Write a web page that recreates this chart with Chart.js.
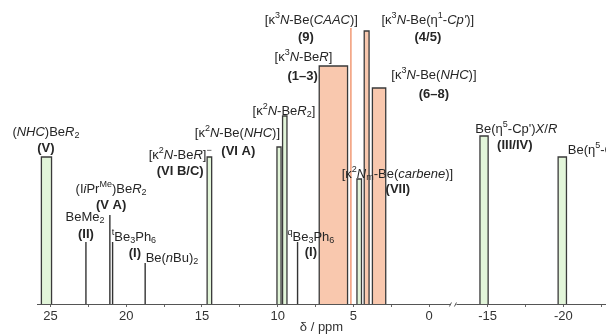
<!DOCTYPE html>
<html>
<head>
<meta charset="utf-8">
<script src="https://cdn.jsdelivr.net/npm/chart.js@4.4.1/dist/chart.umd.min.js"></script>
<style>
    html, body { margin: 0; padding: 0; background: #fff; }
    #wrap { width: 606px; height: 335px; }
</style>
</head>
<body>
<div id="wrap"><canvas id="shiftChart" width="606" height="335"></canvas></div>
<script>
// 9Be chemical shift ranges

// axis break: everything between BREAK_AT and BREAK_AT - BREAK_GAP is cut out
const BREAK_AT = -1.6;
const BREAK_GAP = 11.15;

// shaded ranges
const rangeNames  = ['V', 'VI B/C', 'VI A', 'k2N-BeR2', 'VII', 'III/IV', 'Cp2', '1-3', '4/5', '6-8'];
const rangeFrom   = [25.60, 14.66, 10.05, 9.68, 4.77, -14.50, -19.66, 7.26, 4.29, 3.75];
const rangeTo     = [24.93, 14.36,  9.78, 9.39, 4.47, -15.04, -20.21, 5.39, 3.97, 2.87];
const rangeHeight = [147, 147, 157, 188, 125, 168, 147, 238, 273, 216];
const rangeGroup  = ['green', 'green', 'green', 'green', 'green', 'green', 'green', 'orange', 'orange', 'orange'];

// single shifts (thin lines)
const lineNames  = ['BeMe2', 'IiPrMe', 'tBe3Ph6', 'Be(nBu)2', 'qBe3Ph6', 'CAAC'];
const lineShift  = [22.66, 21.08, 20.90, 18.75, 8.69, 5.17];
const lineHeight = [62, 89, 62, 41, 62, 276];
const lineGroup  = ['black', 'black', 'black', 'black', 'black', 'orange'];

// axis ticks
const tickValues = [25, 20, 15, 10, 5, 0, -15, -20];
const tickLabels = ['25', '20', '15', '10', '5', '0', '-15', '-20'];
const minorTicks = [22.5, 17.5, 12.5, 7.5, 2.5, -17.5, -22.5];

const FAMILY = '"Liberation Sans", Arial, sans-serif';
const TEXT = '#262626';
const COLORS = {
    green: '#e2f5d9',
    orange: '#f9c8ae',
    edge: '#3a3a3a',
    black: '#333333',
    orangeLine: '#f2a07e'
};

// δ -> axis value (squeeze out the break)
function toAxis(d) {
    return d < BREAK_AT ? d + BREAK_GAP : d;
}

function fromAxis(v) {
    return v < BREAK_AT ? v - BREAK_GAP : v;
}

// label placements: markup, δ, height, bold, align
// *...* italic, ^{..} superscript, _{..} subscript
const notes = [
    ['(*NHC*)Be*R*_{2}', 25.3, 172],
    ['(V)', 25.3, 156, true],
    ['[κ^{2}*N*-Be*R*]^{−}', 16.44, 149],
    ['(VI B/C)', 16.44, 133, true],
    ['[κ^{2}*N*-Be(*NHC*)]', 12.66, 171],
    ['(VI A)', 12.6, 153, true],
    ['[κ^{2}*N*-Be*R*_{2}]', 9.59, 193],
    ['(I*i*Pr^{Me})Be*R*_{2}', 21.0, 115],
    ['(V A)', 21.0, 99, true],
    ['BeMe_{2}', 22.72, 87],
    ['(II)', 22.66, 70, true],
    ['^{t}Be_{3}Ph_{6}', 19.49, 67],
    ['(I)', 19.43, 51, true],
    ['Be(*n*Bu)_{2}', 16.98, 46],
    ['^{q}Be_{3}Ph_{6}', 7.81, 67],
    ['(I)', 7.81, 52, true],
    ['[κ^{3}*N*-Be*R*]', 8.30, 247],
    ['(1–3)', 8.35, 228, true],
    ['[κ^{3}*N*-Be(*CAAC*)]', 7.78, 284],
    ['(9)', 8.14, 267, true],
    ['[κ^{3}*N*-Be(η^{1}-*Cp\'*)]', 0.09, 284],
    ['(4/5)', 0.09, 267, true],
    ['[κ^{3}*N*-Be(*NHC*)]', -0.31, 229],
    ['(6–8)', -0.31, 210, true],
    ['[κ^{2}*N*_{m}-Be(*carbene*)]', 2.10, 130],
    ['(VII)', 2.07, 115, true],
    ['Be(η^{5}-Cp\')*X*/*R*', -16.9, 175],
    ['(III/IV)', -16.8, 159, true],
    ['Be(η^{5}-Cp\')_{2}', -20.3, 154, false, 'left']
];

// split markup into runs
function parseRich(src) {
    const runs = [];
    let italic = false;
    let i = 0;
    while (i < src.length) {
        const c = src[i];
        if (c === '*') { italic = !italic; i++; continue; }
        if ((c === '^' || c === '_') && src[i + 1] === '{') {
            const end = src.indexOf('}', i);
            runs.push({ text: src.slice(i + 2, end), italic: italic, shift: c === '^' ? -1 : 1 });
            i = end + 1;
            continue;
        }
        const last = runs[runs.length - 1];
        if (last && last.shift === 0 && last.italic === italic) last.text += c;
        else runs.push({ text: c, italic: italic, shift: 0 });
        i++;
    }
    return runs;
}

function runFont(run, bold) {
    const size = run.shift ? 9 : 13;
    return (run.italic ? 'italic ' : '') + (bold ? 'bold ' : '') + size + 'px ' + FAMILY;
}

function drawRich(ctx, src, x, y, bold, align) {
    const runs = parseRich(src);
    let width = 0;
    runs.forEach(r => {
        ctx.font = runFont(r, bold);
        r.w = ctx.measureText(r.text).width;
        width += r.w;
    });
    let cx = align === 'left' ? x : x - width / 2;
    ctx.textAlign = 'left';
    ctx.textBaseline = 'middle';
    ctx.fillStyle = TEXT;
    runs.forEach(r => {
        ctx.font = runFont(r, bold);
        const dy = r.shift < 0 ? -4.5 : (r.shift > 0 ? 3.5 : 0);
        ctx.fillText(r.text, cx, y + dy);
        cx += r.w;
    });
}

// text labels + the "//" mark on the axis
const notesPlugin = {
    id: 'notes',
    afterDatasetsDraw(chart) {
        const ctx = chart.ctx;
        const xs = chart.scales.x;
        const ys = chart.scales.y;
        ctx.save();
        notes.forEach(n => {
            drawRich(ctx, n[0], xs.getPixelForValue(toAxis(n[1])), ys.getPixelForValue(n[2]), n[3], n[4]);
        });

        // axis break
        const bx = xs.getPixelForValue(BREAK_AT);
        const by = chart.chartArea.bottom;
        ctx.fillStyle = '#fff';
        ctx.fillRect(bx - 3, by - 2, 6, 4);
        ctx.strokeStyle = '#555';
        ctx.lineWidth = 1;
        ctx.beginPath();
        ctx.moveTo(bx - 4, by + 2.5);
        ctx.lineTo(bx - 2, by - 1.5);
        ctx.moveTo(bx + 1, by + 2.5);
        ctx.lineTo(bx + 3, by - 1.5);
        ctx.stroke();
        ctx.restore();
    }
};

// build datasets
const datasets = [];

rangeFrom.forEach((from, i) => {
    const a = toAxis(from);
    const b = toAxis(rangeTo[i]);
    const h = rangeHeight[i];
    datasets.push({
        label: rangeNames[i],
        data: [{ x: a, y: 0 }, { x: a, y: h }, { x: b, y: h }, { x: b, y: 0 }],
        backgroundColor: COLORS[rangeGroup[i]],
        borderColor: COLORS.edge,
        borderWidth: 1.3,
        fill: 'origin',
        pointRadius: 0,
        tension: 0
    });
});

lineShift.forEach((d, i) => {
    const a = toAxis(d);
    const orange = lineGroup[i] === 'orange';
    datasets.push({
        label: lineNames[i],
        data: [{ x: a, y: 0 }, { x: a, y: lineHeight[i] }],
        borderColor: orange ? COLORS.orangeLine : COLORS.black,
        borderWidth: orange ? 1.6 : 1.4,
        fill: false,
        pointRadius: 0
    });
});

const allTicks = tickValues.concat(minorTicks).map(toAxis).sort((a, b) => a - b);

new Chart(document.getElementById('shiftChart'), {
    type: 'line',
    data: { datasets: datasets },
    options: {
        responsive: false,
        devicePixelRatio: 1,
        animation: false,
        events: [],
        layout: { padding: { left: 37, right: 0, top: 0, bottom: 0 } },
        plugins: {
            legend: { display: false },
            tooltip: { enabled: false }
        },
        scales: {
            x: {
                type: 'linear',
                reverse: true,
                min: -11.67,
                max: 25.89,
                afterBuildTicks: function (scale) {
                    scale.ticks = allTicks.map(v => ({ value: v }));
                },
                afterFit: function (scale) {
                    scale.height = 31;
                },
                grid: {
                    drawOnChartArea: false,
                    drawTicks: true,
                    tickLength: 3,
                    color: '#666'
                },
                border: { display: true, color: '#555', width: 1 },
                ticks: {
                    autoSkip: false,
                    maxRotation: 0,
                    padding: 2,
                    color: '#333',
                    font: { family: FAMILY, size: 13 },
                    callback: function (value) {
                        const d = Math.round(fromAxis(value) * 10) / 10;
                        const k = tickValues.indexOf(d);
                        return k >= 0 ? tickLabels[k] : '';
                    }
                },
                title: {
                    display: true,
                    text: 'δ / ppm',
                    color: '#333',
                    padding: { top: 0, bottom: 0 },
                    font: { family: FAMILY, size: 13 }
                }
            },
            y: {
                display: false,
                min: 0,
                max: 304
            }
        }
    },
    plugins: [notesPlugin]
});
</script>
</body>
</html>
